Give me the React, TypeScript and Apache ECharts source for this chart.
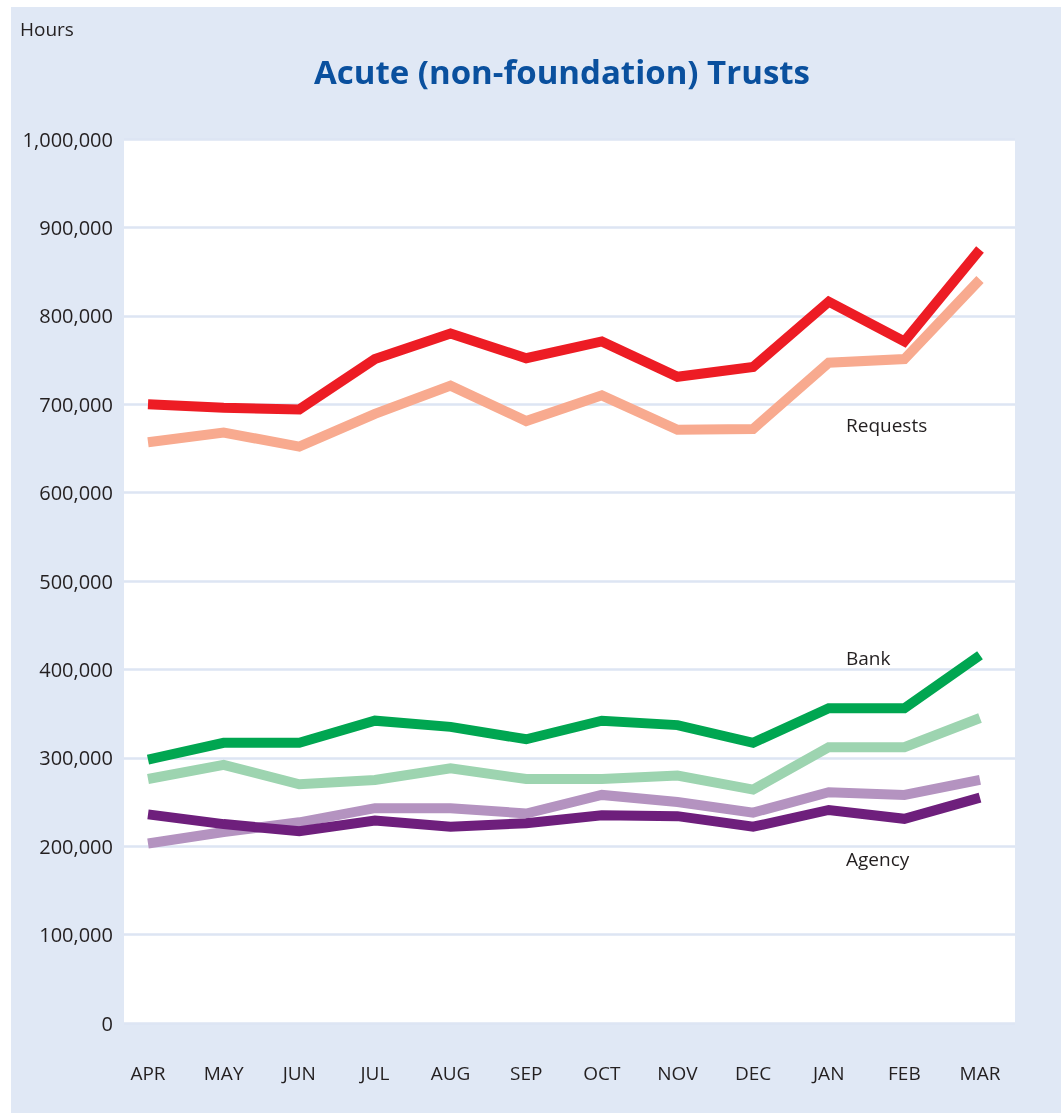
import React, { useEffect, useRef } from "react";
import * as echarts from "echarts";

const months = ["APR", "MAY", "JUN", "JUL", "AUG", "SEP", "OCT", "NOV", "DEC", "JAN", "FEB", "MAR"];
const yTicks = [0, 100000, 200000, 300000, 400000, 500000, 600000, 700000, 800000, 900000, 1000000];

const requestsDark = [700000, 696000, 694000, 751000, 780000, 752000, 771000, 731000, 742000, 816000, 771000, 875000];
const requestsLight = [657000, 668000, 652000, 689000, 721000, 681000, 710000, 671000, 672000, 747000, 751000, 841000];
const bankDark = [298000, 317000, 317000, 342000, 335000, 321000, 342000, 337000, 317000, 356000, 356000, 416000];
const bankLight = [276000, 292000, 270000, 275000, 288000, 276000, 276000, 280000, 264000, 312000, 312000, 345000];
const agencyDark = [236000, 225000, 217000, 229000, 222000, 226000, 235000, 234000, 222000, 241000, 231000, 255000];
const agencyLight = [203000, 216000, 227000, 243000, 243000, 237000, 258000, 250000, 238000, 261000, 258000, 275000];

const FONT = "'Open Sans', 'Noto Sans', sans-serif";
const TEXT = "#231f20";

export default function App() {
  const ref = useRef<HTMLDivElement>(null);
  useEffect(() => {
    if (!ref.current) return;
    const chart = echarts.init(ref.current, undefined, { renderer: "svg" });
    const line = (name: string, data: number[], color: string, z: number) => ({
      name,
      type: "line",
      xAxisIndex: 1,
      yAxisIndex: 1,
      data,
      symbol: "none",
      z,
      lineStyle: { color, width: 10, cap: "butt", join: "miter" },
    });
    const label = (text: string, x: number, y: number) => ({
      type: "text",
      x,
      y,
      z: 10,
      style: { text, font: `19px ${FONT}`, fill: TEXT, textVerticalAlign: "middle" },
    });
    chart.setOption({
      animation: false,
      backgroundColor: "transparent",
      graphic: [
        {
          type: "rect",
          z: -10,
          shape: { x: 11, y: 7, width: 1050, height: 1106 },
          style: { fill: "#e0e8f5" },
        },
        {
          type: "text",
          left: 20,
          top: 19,
          style: { text: "Hours", font: `19px ${FONT}`, fill: TEXT },
        },
        {
          type: "text",
          x: 562,
          y: 71,
          style: {
            text: "Acute (non-foundation) Trusts",
            font: `bold 33px ${FONT}`,
            fill: "#0a509e",
            textAlign: "center",
            textVerticalAlign: "middle",
          },
        },
        label("Requests", 846, 425),
        label("Bank", 846, 658),
        label("Agency", 846, 859),
      ],
      grid: [
        { left: 124, right: 46, top: 139, bottom: 90, show: true, backgroundColor: "#ffffff", borderWidth: 0 },
        { left: 148, right: 81, top: 139, bottom: 90 },
      ],
      xAxis: [
        { type: "category", gridIndex: 0, show: false, data: months },
        {
          type: "category",
          gridIndex: 1,
          data: months,
          boundaryGap: false,
          axisLine: { show: false },
          axisTick: { show: false },
          axisLabel: { color: TEXT, fontSize: 19, fontFamily: FONT, margin: 40, interval: 0 },
        },
      ],
      yAxis: [
        {
          type: "value",
          gridIndex: 0,
          min: yTicks[0],
          max: yTicks[yTicks.length - 1],
          interval: 100000,
          axisLine: { show: false },
          axisTick: { show: false },
          splitLine: { show: true, lineStyle: { color: "#dde5f3", width: 2.5 } },
          axisLabel: {
            color: TEXT,
            fontSize: 20,
            fontFamily: FONT,
            margin: 11,
            formatter: (v: number) => v.toLocaleString("en-US"),
          },
        },
        {
          type: "value",
          gridIndex: 1,
          min: yTicks[0],
          max: yTicks[yTicks.length - 1],
          show: false,
          splitLine: { show: false },
        },
      ],
      series: [
        line("Requests (light)", requestsLight, "#f8aa8f", 2),
        line("Bank (light)", bankLight, "#9dd4b0", 2),
        line("Agency (light)", agencyLight, "#b493c0", 2),
        line("Requests", requestsDark, "#ed1c24", 3),
        line("Bank", bankDark, "#00a651", 3),
        line("Agency", agencyDark, "#6e1f7c", 3),
      ],
    });
    return () => chart.dispose();
  }, []);
  return <div ref={ref} style={{ position: "fixed", left: 0, top: 0, width: 1061, height: 1113 }} />;
}
